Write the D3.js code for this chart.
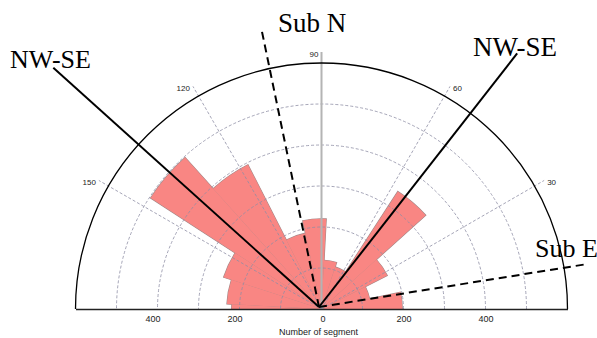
<!DOCTYPE html>
<html>
<head>
<meta charset="utf-8">
<script src="https://cdn.jsdelivr.net/npm/d3@7"></script>
<style>
  html, body { margin: 0; padding: 0; background: #fff; }
  svg { display: block; }
</style>
</head>
<body>
<svg id="chart" width="597" height="338"></svg>
<script>
// ---- data ----
const binStart = [-3, 12, 27, 42, 57, 72, 87, 102, 117, 132, 147, 162, 177]; // degrees, CCW from east
const binWidth = 15;
const counts = [197, 120, 180, 342, 108, 119, 220, 189, 395, 497, 251, 231, 219];
const ringValues = [100, 200, 300, 400, 500];
const outerValue = 600;
const spokeAngles = [30, 60, 90, 120, 150];
const axisTicks = [-400, -200, 0, 200, 400];
const axisTitle = "Number of segment";
const annoNames = ["NW-SE", "NW-SE", "Sub N", "Sub E"];
const annoAngles = [138.0, 52.0, 101.7, 9.1];
const annoLengths = [872, 785, 691, 662];
const annoDashed = [false, false, true, true];

// ---- layout ----
const W = 597, H = 338;
const cx = 321.5, cy = 309;
const svg = d3.select("#chart");
svg.append("rect").attr("width", W).attr("height", H).attr("fill", "#fff");

const r = d3.scaleLinear().domain([0, outerValue]).range([0, 246]);
const xAxisScale = d3.scaleLinear().domain([-outerValue, outerValue]).range([cx - r(outerValue), cx + r(outerValue)]);
const rad = deg => deg * Math.PI / 180;
const polar = (deg, v) => [cx + r(v) * Math.cos(rad(deg)), cy - r(v) * Math.sin(rad(deg))];

const g = svg.append("g");

// clip to upper half
svg.append("clipPath").attr("id", "upper")
  .append("rect").attr("x", 0).attr("y", 0).attr("width", W).attr("height", cy);

const bins = binStart.map((s, i) => ({ a0: s, a1: s + binWidth, v: counts[i] }));
const arc = d3.arc()
  .innerRadius(0)
  .outerRadius(d => r(d.v))
  .startAngle(d => rad(90 - d.a1))
  .endAngle(d => rad(90 - d.a0));

const petals = g.append("g").attr("clip-path", "url(#upper)")
  .append("g").attr("transform", `translate(${cx},${cy})`);
petals.selectAll("path.outline").data(bins).join("path")
  .attr("class", "outline")
  .attr("d", arc)
  .attr("fill", "#f98683")
  .attr("stroke", "#a48a8a")
  .attr("stroke-width", 1.2);
petals.selectAll("path.fill").data(bins).join("path")
  .attr("class", "fill")
  .attr("d", arc)
  .attr("fill", "#f98683");

// semicircle path builder
const semi = v => {
  const p = d3.path();
  p.moveTo(cx + r(v), cy);
  p.arc(cx, cy, r(v), 0, Math.PI, true);
  return p.toString();
};

// grid rings (dashed)
g.selectAll("path.ring").data(ringValues).join("path")
  .attr("class", "ring")
  .attr("d", semi)
  .attr("fill", "none")
  .attr("stroke", "#8e8ea4")
  .attr("stroke-width", 0.8)
  .attr("stroke-dasharray", "3,2");

// spokes
const spokeLen = 627;
g.selectAll("line.spoke").data(spokeAngles).join("line")
  .attr("class", "spoke")
  .attr("x1", cx).attr("y1", cy)
  .attr("x2", d => polar(d, spokeLen)[0])
  .attr("y2", d => polar(d, spokeLen)[1])
  .attr("stroke", d => d === 90 ? "#b4b4b4" : "#8e8ea4")
  .attr("stroke-width", d => d === 90 ? 2 : 0.8)
  .attr("stroke-dasharray", d => d === 90 ? null : "3,2");

g.selectAll("text.spokelab").data(spokeAngles).join("text")
  .attr("class", "spokelab")
  .attr("x", d => polar(d, spokeLen)[0] + (d >= 90 ? -3 : 3))
  .attr("y", d => polar(d, spokeLen)[1] + 5)
  .attr("text-anchor", d => d >= 90 ? "end" : "start")
  .attr("font-family", "Liberation Sans, Arial, sans-serif")
  .attr("font-size", 8)
  .attr("fill", "#222")
  .text(d => d);

// outer semicircle
g.append("path")
  .attr("d", semi(outerValue))
  .attr("fill", "none")
  .attr("stroke", "#000")
  .attr("stroke-width", 1.3);

// baseline axis
const axis = d3.axisBottom(xAxisScale).tickValues(axisTicks).tickSize(0).tickPadding(7)
  .tickFormat(d => Math.abs(d));
const axG = g.append("g").attr("transform", `translate(0,${cy})`).call(axis);
axG.select(".domain").attr("stroke", "#222").attr("stroke-width", 1.5);
axG.selectAll(".tick text")
  .attr("font-family", "Liberation Sans, Arial, sans-serif")
  .attr("font-size", 9)
  .attr("fill", "#222")
  .attr("dx", d => d < 0 ? -5 : (d === 0 ? 1 : 0));

g.append("text")
  .attr("x", cx - 3).attr("y", 334.5)
  .attr("text-anchor", "middle")
  .attr("font-family", "Liberation Sans, Arial, sans-serif")
  .attr("font-size", 9)
  .attr("fill", "#222")
  .text(axisTitle);

// annotation lines (meet slightly off the centre, as drawn in the reference)
const ox = cx - 2.5, oy = cy - 2;
const annos = annoNames.map((n, i) => ({ name: n, a: annoAngles[i], len: annoLengths[i], dashed: annoDashed[i] }));
g.selectAll("line.anno").data(annos).join("line")
  .attr("class", "anno")
  .attr("x1", ox).attr("y1", oy)
  .attr("x2", d => ox + r(d.len) * Math.cos(rad(d.a)))
  .attr("y2", d => oy - r(d.len) * Math.sin(rad(d.a)))
  .attr("stroke", "#000")
  .attr("stroke-width", 2)
  .attr("stroke-dasharray", d => d.dashed ? "8,5" : null);

const annoLabelPos = [[10, 68, 26], [473, 55.5, 27], [278, 31.5, 27], [535, 256.5, 26]];
g.selectAll("text.annolab").data(annos).join("text")
  .attr("class", "annolab")
  .attr("x", (d, i) => annoLabelPos[i][0])
  .attr("y", (d, i) => annoLabelPos[i][1])
  .attr("font-size", (d, i) => annoLabelPos[i][2])
  .attr("font-family", "Liberation Serif, Times New Roman, serif")
  .attr("fill", "#000")
  .text(d => d.name);
</script>
</body>
</html>
